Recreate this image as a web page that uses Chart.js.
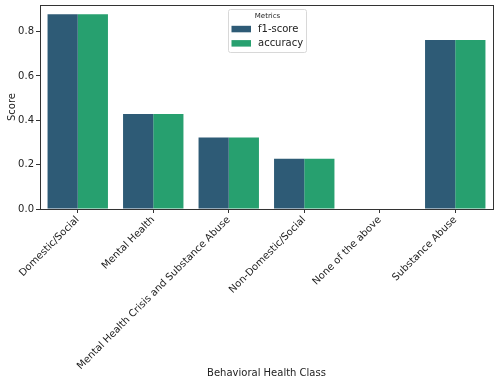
<!DOCTYPE html>
<html>
<head>
<meta charset="utf-8">
<script src="https://cdn.jsdelivr.net/npm/chart.js@4/dist/chart.umd.min.js"></script>
<style>
html,body{margin:0;padding:0;background:#fff;}
#wrap{width:504px;height:381px;position:relative;}
</style>
</head>
<body>
<div id="wrap"><canvas id="c" width="504" height="381"></canvas></div>
<script>
const categories = ["Domestic/Social", "Mental Health", "Mental Health Crisis and Substance Abuse", "Non-Domestic/Social", "None of the above", "Substance Abuse"];
const f1Score = [0.878, 0.428, 0.322, 0.227, 0.0, 0.762];
const accuracy = [0.878, 0.428, 0.322, 0.227, 0.0, 0.762];
const seriesNames = ["f1-score", "accuracy"];
const seriesColors = ["#2e5b76", "#27a06f"];
const yTicks = [0.0, 0.2, 0.4, 0.6, 0.8];
const legendTitle = "Metrics";
const xTitle = "Behavioral Health Class";
const yTitle = "Score";

const FONT = "'DejaVu Sans', sans-serif";
const AXIS = "#333333";

const framePlugin = {
  id: 'frame',
  afterDraw(chart) {
    const ctx = chart.ctx, a = chart.chartArea;
    ctx.save();
    ctx.strokeStyle = AXIS;
    ctx.lineWidth = 1;
    ctx.strokeRect(Math.round(a.left) + 0.5, Math.round(a.top) + 0.5, Math.round(a.right - a.left), Math.round(a.bottom - a.top));
    // legend
    const bx = 228.5, by = 9.5, bw = 78, bh = 43;
    ctx.fillStyle = 'rgba(255,255,255,0.8)';
    ctx.strokeStyle = '#d8d8d8';
    ctx.beginPath();
    if (ctx.roundRect) ctx.roundRect(bx, by, bw, bh, 2); else ctx.rect(bx, by, bw, bh);
    ctx.fill(); ctx.stroke();
    ctx.fillStyle = '#222';
    ctx.font = "7px " + FONT;
    ctx.textAlign = 'center';
    ctx.textBaseline = 'middle';
    ctx.fillText(legendTitle, bx + bw / 2, by + 7);
    chart.data.datasets.forEach((ds, i) => {
      const y = by + 19.5 + i * 14.3;
      ctx.fillStyle = ds.backgroundColor;
      ctx.fillRect(bx + 3, y - 3.2, 19.5, 6.5);
      ctx.fillStyle = '#222';
      ctx.font = "10px " + FONT;
      ctx.textAlign = 'left';
      ctx.fillText(ds.label, bx + 29.5, y + 0.5);
    });
    ctx.restore();
  }
};

new Chart(document.getElementById('c'), {
  type: 'bar',
  data: {
    labels: categories,
    datasets: [
      { label: seriesNames[0], data: f1Score, backgroundColor: seriesColors[0], borderWidth: 0 },
      { label: seriesNames[1], data: accuracy, backgroundColor: seriesColors[1], borderWidth: 0 }
    ]
  },
  options: {
    responsive: false,
    animation: false,
    devicePixelRatio: 1,
    layout: { padding: { left: 6, right: 11, top: 5, bottom: 0 } },
    datasets: { bar: { categoryPercentage: 0.8, barPercentage: 1.0 } },
    plugins: { legend: { display: false }, tooltip: { enabled: false } },
    scales: {
      x: {
        grid: { display: true, drawOnChartArea: false, drawTicks: true, tickLength: 4, color: AXIS, offset: false },
        border: { display: true, color: AXIS },
        ticks: { color: '#222', font: { family: FONT, size: 10 }, maxRotation: 45, minRotation: 45, autoSkip: false, padding: 1 },
        title: { display: true, text: xTitle, color: '#222', font: { family: FONT, size: 10 }, padding: { top: 0, bottom: 2 } },
        afterFit(scale) { scale.height = 172; scale.paddingLeft = 0; scale.paddingRight = 0; }
      },
      y: {
        min: 0, max: 0.92,
        afterBuildTicks(scale) { scale.ticks = yTicks.map(v => ({ value: v })); },
        grid: { display: true, drawOnChartArea: false, drawTicks: true, tickLength: 4, color: AXIS },
        border: { display: true, color: AXIS },
        ticks: { color: '#222', font: { family: FONT, size: 10 }, padding: 2, callback: v => Number(v).toFixed(1) },
        title: { display: true, text: yTitle, color: '#222', font: { family: FONT, size: 10 }, padding: { top: 0, bottom: 4 } },
        afterFit(scale) { scale.width = 34; scale.paddingTop = 0; scale.paddingBottom = 0; }
      }
    }
  },
  plugins: [framePlugin]
});
</script>
</body>
</html>
